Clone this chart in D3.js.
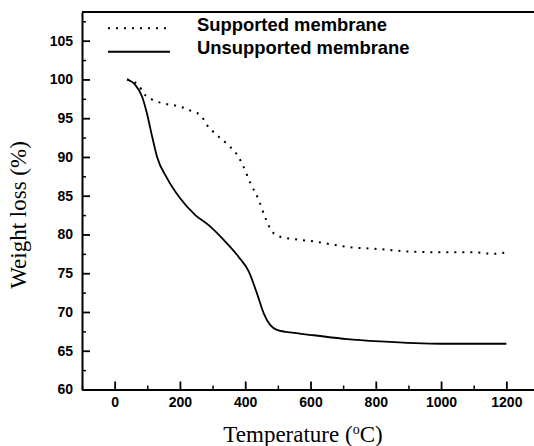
<!DOCTYPE html>
<html>
<head>
<meta charset="utf-8">
<script src="https://cdn.jsdelivr.net/npm/d3@7"></script>
<style>
  body { margin: 0; background: #fff; }
  svg { display: block; }
</style>
</head>
<body>
<div id="graph"></div>
<script>
// TGA curves
const supportedTemp = [38, 74, 89, 115, 150, 200, 242, 263, 283, 314, 349, 375, 390, 416, 441, 462, 482, 508, 550, 610, 712, 814, 900, 1000, 1100, 1160, 1200];
const supportedLoss = [100, 99.2, 98.2, 97.4, 96.9, 96.5, 95.8, 95.4, 94.1, 92.8, 91.5, 90.3, 89.2, 86.6, 84.5, 82.1, 80.4, 79.7, 79.4, 79.1, 78.4, 78.1, 77.8, 77.7, 77.7, 77.5, 77.7];

const unsupportedTemp = [38, 63, 84, 99, 115, 130, 160, 200, 247, 288, 334, 380, 411, 436, 457, 477, 497, 550, 610, 712, 814, 1000, 1100, 1200];
const unsupportedLoss = [100, 99.3, 97.8, 95.6, 92.6, 90.0, 87.3, 84.7, 82.5, 81.2, 79.3, 77.1, 75.2, 72.4, 69.8, 68.3, 67.7, 67.3, 67.0, 66.5, 66.2, 65.9, 65.9, 65.9];

const seriesNames = ["Supported membrane", "Unsupported membrane"];
const xTickLabels = [0, 200, 400, 600, 800, 1000, 1200];
const yTickLabels = [60, 65, 70, 75, 80, 85, 90, 95, 100, 105];

const fullwidth = 534;
const fullheight = 446;

var svg = d3.select("#graph").
append("svg").
attr("width", fullwidth).
attr("height", fullheight);

var x = d3.scaleLinear().domain([-100, 1300]).range([82, 539]);
var y = d3.scaleLinear().domain([60, 108.7]).range([389.5, 12]);

var xMinor = d3.range(-100, 1400, 100).filter(d => d % 200 != 0);
var yMinor = d3.range(62.5, 110, 5);

// minor ticks first, major axis on top
svg.append("g").
attr("transform", "translate(0," + y(60) + ")").
call(d3.axisBottom(x).tickValues(xMinor).tickSize(-4).tickFormat("")).
call(g => g.select(".domain").remove()).
selectAll("line").attr("stroke-width", 1.5);

svg.append("g").
attr("transform", "translate(" + x(-100) + ",0)").
call(d3.axisLeft(y).tickValues(yMinor).tickSize(-4).tickFormat("")).
call(g => g.select(".domain").remove()).
selectAll("line").attr("stroke-width", 1.5);

var xAxis = svg.append("g").
attr("transform", "translate(0," + y(60) + ")").
call(d3.axisBottom(x).tickValues(xTickLabels).tickFormat(d3.format("d")).tickSize(-8).tickSizeOuter(0).tickPadding(8));

var yAxis = svg.append("g").
attr("transform", "translate(" + x(-100) + ",0)").
call(d3.axisLeft(y).tickValues(yTickLabels).tickFormat(d3.format("d")).tickSize(-8).tickSizeOuter(0).tickPadding(9));

[xAxis, yAxis].forEach(function (a) {
  a.select(".domain").attr("stroke-width", 2);
  a.selectAll(".tick line").attr("stroke-width", 1.8);
  a.selectAll("text").
  style("font-family", "'Liberation Sans', Arial, sans-serif").
  style("font-weight", "bold").
  style("font-size", "14px").
  attr("fill", "#000");
});

// top frame line
svg.append("line").
attr("x1", x(-100)).
attr("x2", fullwidth).
attr("y1", y(108.7)).
attr("y2", y(108.7)).
attr("stroke", "black").
attr("stroke-width", 2);

var line = d3.line().
x(d => x(d[0])).
y(d => y(d[1])).
curve(d3.curveMonotoneX);

svg.append("path").
datum(d3.zip(supportedTemp, supportedLoss)).
attr("fill", "none").
attr("stroke", "black").
attr("stroke-width", 2).
attr("stroke-dasharray", "2,6").
attr("d", line);

svg.append("path").
datum(d3.zip(unsupportedTemp, unsupportedLoss)).
attr("fill", "none").
attr("stroke", "black").
attr("stroke-width", 1.8).
attr("d", line);

// legend
var legend = svg.append("g").attr("class", "legend");
var legendY = [28.3, 51.7];
var dashes = ["2,6", null];
for (var k = 0; k < seriesNames.length; ++k) {
  legend.append("line").
  attr("x1", 108).
  attr("x2", 170).
  attr("y1", legendY[k]).
  attr("y2", legendY[k]).
  attr("stroke", "black").
  attr("stroke-width", 2).
  attr("stroke-dasharray", dashes[k]);
  legend.append("text").
  attr("x", 197).
  attr("y", legendY[k] + 2.5).
  style("font-family", "'Liberation Sans', Arial, sans-serif").
  style("font-weight", "bold").
  style("font-size", "18.4px").
  text(seriesNames[k]);
}

// axis titles
svg.append("text").
attr("transform", "translate(26,215) rotate(-90)").
attr("text-anchor", "middle").
style("font-family", "'Liberation Serif', 'Times New Roman', serif").
style("font-size", "23px").
text("Weight loss (%)");

var xTitle = svg.append("text").
attr("x", 303).
attr("y", 442).
attr("text-anchor", "middle").
style("font-family", "'Liberation Serif', 'Times New Roman', serif").
style("font-size", "23px");
xTitle.append("tspan").text("Temperature (");
xTitle.append("tspan").attr("dy", -8).style("font-size", "14px").text("o");
xTitle.append("tspan").attr("dy", 8).text("C)");
</script>
</body>
</html>
